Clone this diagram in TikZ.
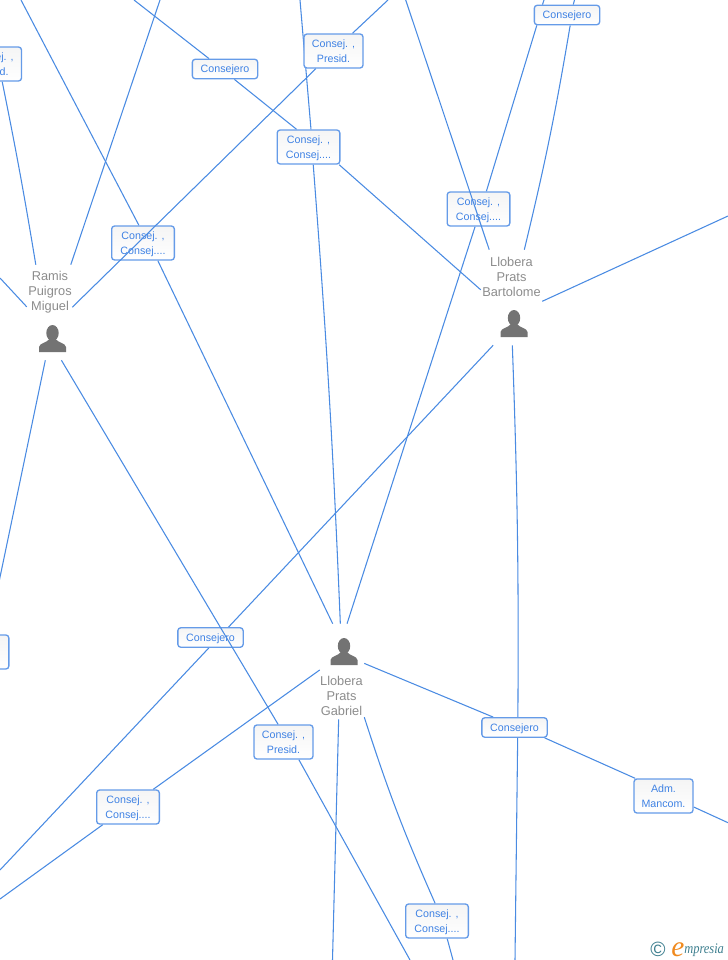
\documentclass[tikz,border=0pt]{standalone}
\usepackage{fontspec}
\setmainfont{Liberation Sans}
\newfontfamily\logofont{Liberation Serif}
\newfontfamily\logonarrow[FakeStretch=0.85]{Liberation Serif}
\usetikzlibrary{backgrounds}
\definecolor{linkblue}{HTML}{4A8BE2}
\definecolor{boxblue}{HTML}{659BE8}
\definecolor{tagblue}{HTML}{3F82E4}
\definecolor{namegrey}{HTML}{8C8C8C}
\definecolor{icongrey}{HTML}{737373}
\definecolor{logoteal}{HTML}{3E7F8F}
\definecolor{logoorange}{HTML}{F08A1E}
\begin{document}
\begin{tikzpicture}[x=0.75pt, y=-0.75pt,
    link/.style={draw=linkblue, line width=0.8pt},
    tagbox/.style={draw=boxblue, line width=1pt, rounded corners=2.2pt, top color=black!4, bottom color=white, text=tagblue, align=center, inner sep=0pt, font=\fontsize{8}{11.25}\selectfont},
    tagone/.style={tagbox, text height=7.5pt, text depth=2pt, minimum width=49pt, minimum height=14.6pt},
    tagtwo/.style={tagbox, text height=17.6pt, text depth=0pt, minimum width=47pt, minimum height=25.5pt},
    tagpres/.style={tagbox, text height=17.6pt, text depth=0pt, minimum width=44.25pt, minimum height=25.5pt},
    personname/.style={text=namegrey, align=center, inner sep=0pt, font=\fontsize{9.6}{11.25}\selectfont},
    personframe/.style={inner sep=0pt, minimum height=71.25pt},
    personicon/.pic={
      \fill[icongrey] (0,-6) ellipse [x radius=6.2, y radius=8];
      \fill[icongrey] (-13.5,13) -- (-13.5,8) .. controls (-13,4) and (-6,4) .. (-3,0) -- (3,0) .. controls (6,4) and (13,4) .. (13.5,8) -- (13.5,13) -- cycle;
    }]
  \useasboundingbox (0,0) rectangle (728,960);

  \node[personframe, minimum width=33.75pt] (ramis) at (49.5,312.5) {};
  \node[personframe, minimum width=45.75pt] (bart) at (511.5,297.5) {};
  \node[personframe, minimum width=33pt] (gabriel) at (342,671.5) {};
  \node[personname] (ramisname) at (50,292) {Ramis\\Puigros\\Miguel};
  \node[personname] (bartname) at (511.5,277) {Llobera\\Prats\\Bartolome};
  \node[personname] (gabrielname) at (341.5,695.5) {Llobera\\Prats\\Gabriel};
  \pic at (52.5,339) {personicon};
  \pic at (514,324) {personicon};
  \pic at (344,652) {personicon};

  \node[tagpres] (presa) at (-8,64) {Consej. ,\\Presid.};
  \node[tagone] (consa) at (225,69) {Consejero};
  \node[tagpres] (presb) at (333.5,51) {Consej. ,\\Presid.};
  \node[tagtwo] (dblb) at (308.5,147) {Consej. ,\\Consej....};
  \node[tagone] (consb) at (567,15) {Consejero};
  \node[tagtwo] (dblc) at (478.5,209) {Consej. ,\\Consej....};
  \node[tagtwo] (dbla) at (143,243) {Consej. ,\\Consej....};
  \node[tagtwo] (dbld) at (-22.5,652) {Consej. ,\\Consej....};
  \node[tagone] (consc) at (210.5,637.5) {Consejero};
  \node[tagpres] (presc) at (283.5,742) {Consej. ,\\Presid.};
  \node[tagtwo] (dble) at (128,807) {Consej. ,\\Consej....};
  \node[tagone] (consd) at (514.5,727.5) {Consejero};
  \node[tagpres] (adm) at (663.5,796) {Adm.\\Mancom.};
  \node[tagtwo] (dblf) at (437,921) {Consej. ,\\Consej....};

  \coordinate (topa) at (21,0);
  \coordinate (topb) at (134,0);
  \coordinate (topc) at (160,0);
  \coordinate (topd) at (300,0);
  \coordinate (tope) at (388,0);
  \coordinate (topf) at (405.7,0);
  \coordinate (topg) at (544,0);
  \coordinate (toph) at (574.5,0);
  \coordinate (lefta) at (0,278);
  \coordinate (leftb) at (-1,582);
  \coordinate (leftc) at (0,870);
  \coordinate (leftd) at (0,899);
  \coordinate (righta) at (728,216);
  \coordinate (rightb) at (728,822.7);
  \coordinate (bota) at (332.5,960);
  \coordinate (botb) at (410,960);
  \coordinate (botc) at (453,960);
  \coordinate (botd) at (515,960);

  \begin{scope}[on background layer]
    \draw[link] (topa) -- (dbla.103);
    \draw[link] (dbla.-50.5) -- (gabriel.101.9);
    \draw[link] (topb) -- (consa.147.5);
    \draw[link] (consa.-48) -- (dblb.124.8);
    \draw[link] (topc) -- (ramis.66);
    \draw[link] (topd) -- (dblb.82.6);
    \draw[link] (dblb.-75.2) to[bend left=1] (gabriel.92.4);
    \draw[link] (dblb.-30) -- (bart.166.2);
    \draw[link] (tope) -- (presb.43);
    \draw[link] (topg) -- (consb.157.4);
    \draw[link] (consb.-161.6) -- (dblc.66.2);
    \draw[link] (dblc.-101.6) -- (gabriel.84);
    \draw[link] (toph) -- (consb.59);
    \draw[link] (consb.-73.3) to[bend left=2] (bart.75.3);
    \draw[link] (presa.-60.3) to[bend left=1] (ramis.106);
    \draw[link] (lefta) -- (ramis.166.3);
    \draw[link] (leftb) -- (ramis.-95.4);
    \draw[link] (righta) -- (bart.-7.5);
    \draw[link] (bart.-111.3) -- (consc.30.4);
    \draw[link] (consc.-99) -- (leftc);
    \draw[link] (bart.-89.4) to[bend left=1.2] (consd.72.5);
    \draw[link] (consd.-73.6) -- (botd);
    \draw[link] (gabriel.176.1) -- (dble.35.6);
    \draw[link] (dble.-145.8) -- (leftd);
    \draw[link] (gabriel.20) -- (consd.154.4);
    \draw[link] (consd.-19) -- (adm.148.6);
    \draw[link] (adm.-20) -- (rightb);
    \draw[link] (gabriel.-94.2) -- (bota);
    \draw[link] (gabriel.-64.2) to[bend right=3] (dblf.96.7);
    \draw[link] (dblf.-60.3) -- (botc);
    \draw[link] (presc.-49.5) -- (botb);
  \end{scope}

  \draw[link] (ramis.13.4) -- (presb.-135.8);
  \draw[link] (ramis.-76.4) -- (presc.107.9);
  \draw[link] (topf) -- (bart.115.3);

  \node[text=logoteal, inner sep=0pt, font=\fontsize{15.5}{16}\selectfont] (logoc) at (658,949) {©};
  \node[text=logoorange, inner sep=0pt, font=\logofont\itshape\fontsize{22}{22}\selectfont] (logoe) at (678,949.5) {e};
  \node[text=logoteal, inner sep=0pt, anchor=west, font=\logonarrow\itshape\fontsize{11}{12}\selectfont] (logotext) at (684,950) {mpresia};
\end{tikzpicture}
\end{document}
